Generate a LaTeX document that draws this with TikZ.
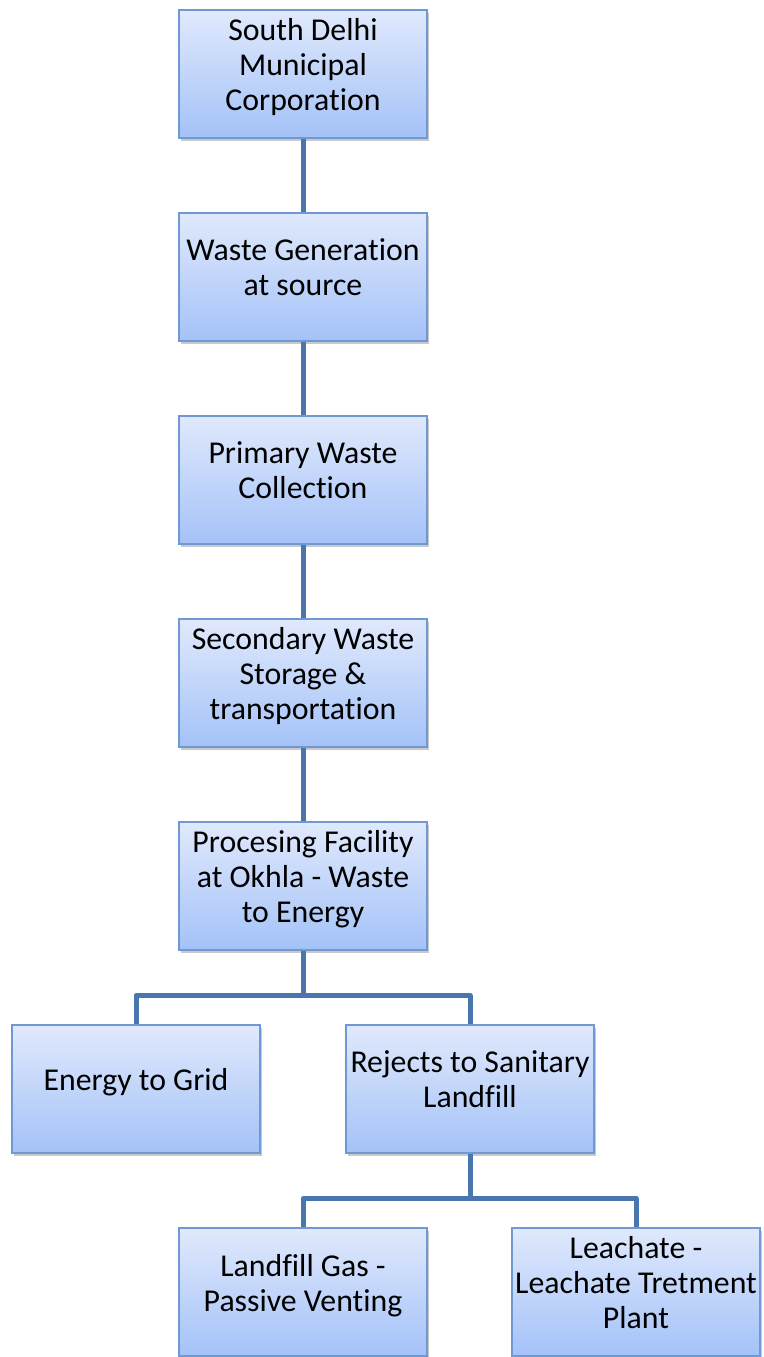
\documentclass[tikz,border=0pt]{standalone}
\usepackage{fontspec}
\setmainfont{Carlito}[Ligatures=NoCommon]
\usetikzlibrary{shadows}
\definecolor{boxtop}{HTML}{E0E9FC}
\definecolor{boxbot}{HTML}{A4C2F8}
\definecolor{boxline}{HTML}{7098D2}
\definecolor{connline}{HTML}{4A76B0}
\tikzset{
  stage/.style={draw=boxline, line width=1.2pt, top color=boxtop, bottom color=boxbot,
    minimum width=248pt, minimum height=128pt, inner sep=0pt, align=center,
    text depth=19pt, font=\fontsize{31.8}{35}\selectfont,
    drop shadow={shadow xshift=2pt, shadow yshift=-3pt, opacity=0.3, fill=black!70}},
  conn/.style={draw=connline, line width=5pt, line join=round}
}
\begin{document}
\begin{tikzpicture}[x=1pt,y=-1pt]
        \useasboundingbox (0,0) rectangle (763,1357);

        % Stages of the chain
        \node[stage] (sdmc) at (303,74) {South Delhi\\Municipal\\Corporation};
        \node[stage] (gen) at (303,277) {Waste Generation\\at source};
        \node[stage] (prim) at (303,480) {Primary Waste\\Collection};
        \node[stage] (sec) at (303,683) {Secondary Waste\\Storage \&\\transportation};
        \node[stage] (proc) at (303,886) {Procesing Facility\\at Okhla - Waste\\to Energy};

        % Outputs
        \node[stage] (grid) at (136,1089) {Energy to Grid};
        \node[stage] (rejects) at (470,1089) {Rejects to Sanitary\\Landfill};
        \node[stage] (gas) at (303,1292) {Landfill Gas -\\Passive Venting};
        \node[stage] (leach) at (636,1292) {Leachate -\\Leachate Tretment\\Plant};

        % Connectors
        \draw[conn] (sdmc.south) -- (gen.north);
        \draw[conn] (gen.south) -- (prim.north);
        \draw[conn] (prim.south) -- (sec.north);
        \draw[conn] (sec.south) -- (proc.north);
        \draw[conn] (proc.south) -- ++(0,45) coordinate (split1) -| (grid.north);
        \draw[conn] (split1) -| (rejects.north);
        \draw[conn] (rejects.south) -- ++(0,45) coordinate (split2) -| (gas.north);
        \draw[conn] (split2) -| (leach.north);
    \end{tikzpicture}
\end{document}
